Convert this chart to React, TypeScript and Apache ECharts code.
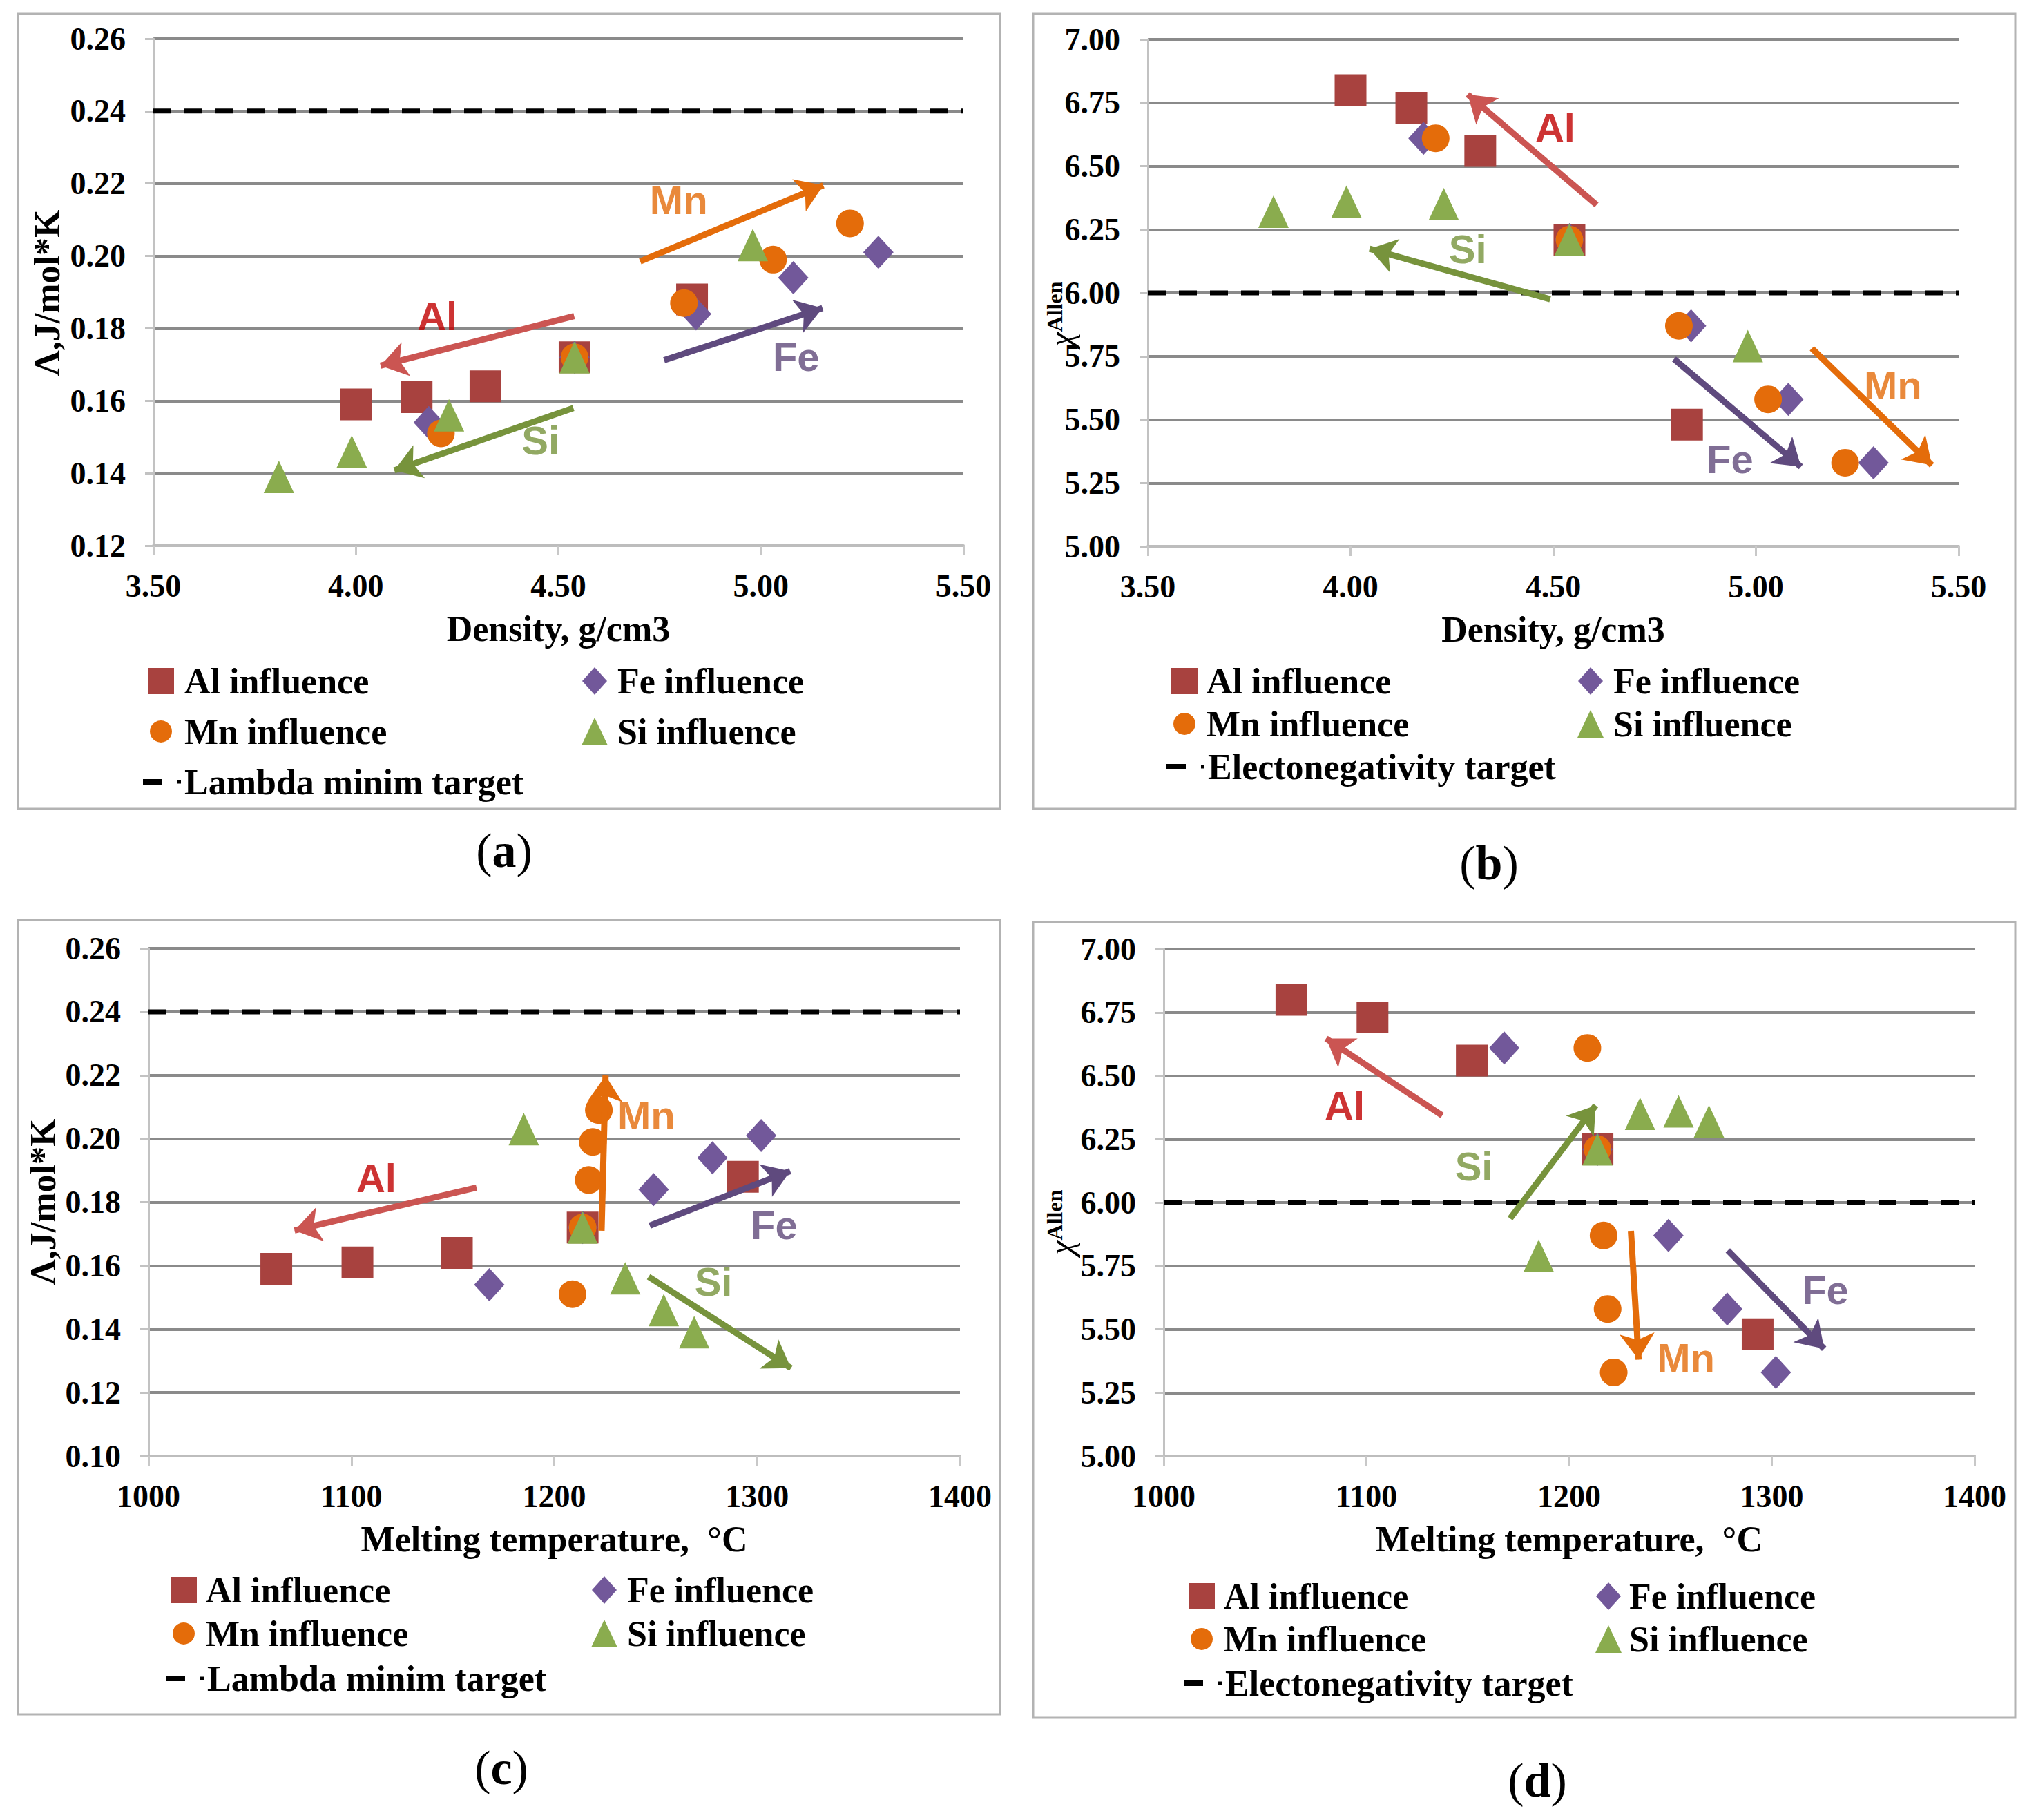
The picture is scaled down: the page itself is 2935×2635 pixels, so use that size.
import React, { useEffect, useRef } from "react";
import * as echarts from "echarts";

// ---------------- DATA ----------------
const ELEMENTS = ["Al", "Fe", "Mn", "Si"];
const SERIES_NAMES = ["Al influence", "Fe influence", "Mn influence", "Si influence"];

// Density, g/cm3
const alDensity = [4.0, 4.15, 4.32, 4.54, 4.83];
const feDensity = [4.18, 4.54, 4.84, 5.08, 5.29];
const mnDensity = [4.21, 4.54, 4.81, 5.03, 5.22];
const siDensity = [3.81, 3.99, 4.23, 4.54, 4.98];

// Melting temperature, °C
const alTm = [1063, 1103, 1152, 1214, 1293];
const feTm = [1168, 1214, 1249, 1278, 1302];
const mnTm = [1209, 1214, 1217, 1219, 1222];
const siTm = [1269, 1254, 1235, 1214, 1185];

// Lambda, J/mol*K
const alLambda = [0.159, 0.161, 0.164, 0.172, 0.188];
const feLambda = [0.154, 0.172, 0.184, 0.194, 0.201];
const mnLambda = [0.151, 0.172, 0.187, 0.199, 0.209];
const siLambda = [0.139, 0.146, 0.156, 0.172, 0.203];

// Electronegativity chi^Allen
const alChi = [6.8, 6.73, 6.56, 6.21, 5.48];
const feChi = [6.61, 6.21, 5.87, 5.58, 5.33];
const mnChi = [6.61, 6.21, 5.87, 5.58, 5.33];
const siChi = [6.32, 6.36, 6.35, 6.21, 5.79];

const LAMBDA_TARGET = 0.24;
const CHI_TARGET = 6.0;
const LAMBDA_TARGET_NAME = "Lambda minim target";
const CHI_TARGET_NAME = "Electonegativity target";

// axes
const densityAxis = { min: 3.5, max: 5.5, interval: 0.5, digits: 2, name: "Density, g/cm3" };
const tempAxis = { min: 1000, max: 1400, interval: 100, digits: 0, name: "Melting temperature,  °C" };
const lambdaAxisA = { min: 0.12, max: 0.26, interval: 0.02, digits: 2 };
const lambdaAxisC = { min: 0.1, max: 0.26, interval: 0.02, digits: 2 };
const chiAxis = { min: 5.0, max: 7.0, interval: 0.25, digits: 2 };

// trend arrow annotations (data coordinates)
const arrowsA = [
  { el: "Al", from: [4.539, 0.1834], to: [4.061, 0.1697] },
  { el: "Mn", from: [4.702, 0.1985], to: [5.154, 0.2195] },
  { el: "Fe", from: [4.761, 0.1712], to: [5.152, 0.1856] },
  { el: "Si", from: [4.537, 0.158], to: [4.095, 0.1408] },
];
const labelsA = [
  { el: "Al", at: [4.201, 0.1835] },
  { el: "Mn", at: [4.797, 0.2154] },
  { el: "Fe", at: [5.087, 0.1721] },
  { el: "Si", at: [4.456, 0.149] },
];
const arrowsB = [
  { el: "Al", from: [4.607, 6.347], to: [4.289, 6.783] },
  { el: "Si", from: [4.4925, 5.975], to: [4.047, 6.174] },
  { el: "Fe", from: [4.798, 5.739], to: [5.111, 5.314] },
  { el: "Mn", from: [5.138, 5.781], to: [5.434, 5.32] },
];
const labelsB = [
  { el: "Al", at: [4.505, 6.653] },
  { el: "Si", at: [4.289, 6.174] },
  { el: "Fe", at: [4.936, 5.346] },
  { el: "Mn", at: [5.338, 5.637] },
];
const arrowsC = [
  { el: "Al", from: [1161.7, 0.1846], to: [1072, 0.1711] },
  { el: "Mn", from: [1223.3, 0.171], to: [1225.3, 0.2199] },
  { el: "Fe", from: [1247.1, 0.1726], to: [1316.3, 0.1898] },
  { el: "Si", from: [1246.5, 0.1565], to: [1316.7, 0.1277] },
];
const labelsC = [
  { el: "Al", at: [1112.3, 0.1877] },
  { el: "Mn", at: [1245.4, 0.2075] },
  { el: "Fe", at: [1308.4, 0.1729] },
  { el: "Si", at: [1278.5, 0.155] },
];
const arrowsD = [
  { el: "Al", from: [1137.4, 6.343], to: [1080.1, 6.647] },
  { el: "Si", from: [1170.9, 5.937], to: [1213.1, 6.383] },
  { el: "Mn", from: [1230.5, 5.888], to: [1234.3, 5.38] },
  { el: "Fe", from: [1278.3, 5.811], to: [1325.8, 5.423] },
];
const labelsD = [
  { el: "Al", at: [1089.3, 6.383] },
  { el: "Si", at: [1153, 6.143] },
  { el: "Mn", at: [1257.6, 5.388] },
  { el: "Fe", at: [1326.4, 5.654] },
];

// ---------------- STYLE ----------------
const SERIF = '"Liberation Serif", "Times New Roman", serif';
const SANS = '"Liberation Sans", Arial, sans-serif';
const COLORS: Record<string, string> = { Al: "#A8423F", Fe: "#72589A", Mn: "#E46C0A", Si: "#8AAC4E" };
const ARROW_COLORS: Record<string, string> = { Al: "#CB5552", Fe: "#5F4A7E", Mn: "#E46C0A", Si: "#77933C" };
const LABEL_COLORS: Record<string, string> = { Al: "#C00000", Fe: "#604A7B", Mn: "#E46C0A", Si: "#77933C" };
const SYMBOLS: Record<string, any> = {
  Al: { symbol: "rect", size: [46, 46] },
  Fe: { symbol: "diamond", size: [44, 48] },
  Mn: { symbol: "circle", size: 40 },
  Si: { symbol: "triangle", size: [44, 47] },
};
const DASH_ICON = "path://M0,0h28v8h-28zM50,1.5h5v5h-5z";

const PANELS = [
  {
    tag: "a",
    xs: [alDensity, feDensity, mnDensity, siDensity],
    ys: [alLambda, feLambda, mnLambda, siLambda],
    xAxis: densityAxis,
    yAxis: lambdaAxisA,
    target: LAMBDA_TARGET,
    targetName: LAMBDA_TARGET_NAME,
    yTitle: "lambda",
    arrows: arrowsA,
    labels: labelsA,
    grid: { left: 222, top: 56, width: 1173, height: 734 },
    box: { x: 26, y: 20, width: 1422, height: 1151 },
    tagPos: [730, 1231],
    yTitlePos: [68, 424],
    legend: { c1: 233, t1: 267, c2: 861, t2: 894, rows: [986, 1059, 1132] },
  },
  {
    tag: "b",
    xs: [alDensity, feDensity, mnDensity, siDensity],
    ys: [alChi, feChi, mnChi, siChi],
    xAxis: densityAxis,
    yAxis: chiAxis,
    target: CHI_TARGET,
    targetName: CHI_TARGET_NAME,
    yTitle: "chi",
    arrows: arrowsB,
    labels: labelsB,
    grid: { left: 1662, top: 57, width: 1174, height: 734 },
    box: { x: 1496, y: 20, width: 1422, height: 1151 },
    tagPos: [2156, 1249],
    yTitlePos: [1536, 455],
    legend: { c1: 1715, t1: 1747, c2: 2303, t2: 2336, rows: [986, 1048, 1110] },
  },
  {
    tag: "c",
    xs: [alTm, feTm, mnTm, siTm],
    ys: [alLambda, feLambda, mnLambda, siLambda],
    xAxis: tempAxis,
    yAxis: lambdaAxisC,
    target: LAMBDA_TARGET,
    targetName: LAMBDA_TARGET_NAME,
    yTitle: "lambda",
    arrows: arrowsC,
    labels: labelsC,
    grid: { left: 215, top: 1373, width: 1175, height: 735 },
    box: { x: 26, y: 1332, width: 1422, height: 1150 },
    tagPos: [726, 2559],
    yTitlePos: [62, 1740],
    legend: { c1: 266, t1: 298, c2: 875, t2: 908, rows: [2302, 2365, 2430] },
  },
  {
    tag: "d",
    xs: [alTm, feTm, mnTm, siTm],
    ys: [alChi, feChi, mnChi, siChi],
    xAxis: tempAxis,
    yAxis: chiAxis,
    target: CHI_TARGET,
    targetName: CHI_TARGET_NAME,
    yTitle: "chi",
    arrows: arrowsD,
    labels: labelsD,
    grid: { left: 1685, top: 1374, width: 1174, height: 734 },
    box: { x: 1496, y: 1335, width: 1422, height: 1152 },
    tagPos: [2226, 2577],
    yTitlePos: [1536, 1770],
    legend: { c1: 1740, t1: 1772, c2: 2329, t2: 2359, rows: [2311, 2373, 2437] },
  },
];

const LEGEND_FONT = 52;

function buildOption() {
  const grid: any[] = [];
  const xAxis: any[] = [];
  const yAxis: any[] = [];
  const series: any[] = [];
  const legend: any[] = [];
  const graphic: any[] = [];

  PANELS.forEach((p, idx) => {
    grid.push({ ...p.grid, containLabel: false });
    xAxis.push({
      type: "value",
      gridIndex: idx,
      min: p.xAxis.min,
      max: p.xAxis.max,
      interval: p.xAxis.interval,
      name: p.xAxis.name,
      nameLocation: "middle",
      nameGap: 94,
      nameTextStyle: { fontFamily: SERIF, fontWeight: "bold", fontSize: 52, color: "#000" },
      axisLine: { show: true, lineStyle: { color: "#BDBDBD", width: 4 } },
      axisTick: { show: true, inside: false, length: 14, lineStyle: { color: "#C8C8C8", width: 3 } },
      splitLine: { show: false },
      axisLabel: {
        margin: 35,
        fontFamily: SERIF,
        fontWeight: "bold",
        fontSize: 46,
        color: "#000",
        formatter: (v: number) => v.toFixed(p.xAxis.digits),
      },
    });
    yAxis.push({
      type: "value",
      gridIndex: idx,
      min: p.yAxis.min,
      max: p.yAxis.max,
      interval: p.yAxis.interval,
      axisLine: { show: true, lineStyle: { color: "#C2C2C2", width: 3 } },
      axisTick: { show: true, inside: false, length: 12, lineStyle: { color: "#C2C2C2", width: 3 } },
      splitLine: { show: true, lineStyle: { color: "#8A8A8A", width: 4 } },
      axisLabel: {
        margin: 40,
        fontFamily: SERIF,
        fontWeight: "bold",
        fontSize: 46,
        color: "#000",
        formatter: (v: number) => v.toFixed(p.yAxis.digits),
      },
    });

    // target line
    series.push({
      type: "line",
      name: p.targetName,
      xAxisIndex: idx,
      yAxisIndex: idx,
      data: [
        [p.xAxis.min, p.target],
        [p.xAxis.max, p.target],
      ],
      symbol: "none",
      silent: true,
      lineStyle: { color: "#000", width: 7, type: [26, 19] },
      itemStyle: { color: "#000" },
      z: 3,
    });

    // scatter series
    ELEMENTS.forEach((el, k) => {
      series.push({
        type: "scatter",
        name: SERIES_NAMES[k],
        xAxisIndex: idx,
        yAxisIndex: idx,
        data: p.xs[k].map((x: number, i: number) => [x, p.ys[k][i]]),
        symbol: SYMBOLS[el].symbol,
        symbolSize: SYMBOLS[el].size,
        itemStyle: { color: COLORS[el], opacity: 1 },
        silent: true,
        z: 5,
      });
    });

    // arrows
    p.arrows.forEach((a: any) => {
      series.push({
        type: "lines",
        coordinateSystem: "cartesian2d",
        xAxisIndex: idx,
        yAxisIndex: idx,
        data: [{ coords: [a.from, a.to] }],
        symbol: ["none", "arrow"],
        symbolSize: 38,
        lineStyle: { color: ARROW_COLORS[a.el], width: 9, opacity: 1, curveness: 0 },
        silent: true,
        z: 6,
      });
    });

    // arrow labels
    series.push({
      type: "scatter",
      xAxisIndex: idx,
      yAxisIndex: idx,
      data: p.labels.map((l: any) => ({
        name: l.el,
        value: l.at,
        label: { color: LABEL_COLORS[l.el] },
      })),
      symbolSize: 1,
      itemStyle: { color: "transparent" },
      label: {
        show: true,
        position: "inside",
        formatter: "{b}",
        fontFamily: SANS,
        fontWeight: "bold",
        fontSize: 58,
      },
      silent: true,
      z: 7,
    });

    // legends
    const L = p.legend;
    const items = [
      { name: "Al influence", icon: "rect", w: 38, h: 38, col: 1, row: 0 },
      { name: "Fe influence", icon: "diamond", w: 36, h: 40, col: 2, row: 0 },
      { name: "Mn influence", icon: "circle", w: 32, h: 32, col: 1, row: 1 },
      { name: "Si influence", icon: "triangle", w: 38, h: 40, col: 2, row: 1 },
      { name: p.targetName, icon: DASH_ICON, w: 55, h: 8, col: 1, row: 2, dash: true },
    ];
    items.forEach((it: any) => {
      const c = it.col === 1 ? L.c1 : L.c2;
      const t = it.col === 1 ? L.t1 : L.t2;
      const left = it.dash ? c - 26 : c - it.w / 2;
      const pad = Math.max(0, t - (left + it.w + 5));
      legend.push({
        left,
        top: L.rows[it.row] - LEGEND_FONT / 2,
        orient: "horizontal",
        padding: 0,
        itemGap: 0,
        selectedMode: false,
        itemWidth: it.w,
        itemHeight: it.h,
        data: [{ name: it.name, icon: it.icon }],
        textStyle: {
          fontFamily: SERIF,
          fontWeight: "bold",
          fontSize: LEGEND_FONT,
          color: "#000",
          padding: [0, 0, 0, pad],
        },
      });
    });

    // panel frame
    graphic.push({
      type: "rect",
      shape: { ...p.box },
      style: { fill: "none", stroke: "#B3B3B3", lineWidth: 3 },
      silent: true,
    });

    // panel tag
    graphic.push({
      type: "text",
      x: p.tagPos[0],
      y: p.tagPos[1],
      silent: true,
      style: {
        text: `{n|(}{b|${p.tag}}{n|)}`,
        rich: {
          n: { fontFamily: SERIF, fontSize: 70, fill: "#000" },
          b: { fontFamily: SERIF, fontSize: 70, fontWeight: "bold", fill: "#000" },
        },
        align: "center",
        verticalAlign: "middle",
        textAlign: "center",
        textVerticalAlign: "middle",
      },
    });

    // y-axis title
    if (p.yTitle === "lambda") {
      graphic.push({
        type: "text",
        x: p.yTitlePos[0],
        y: p.yTitlePos[1],
        rotation: Math.PI / 2,
        silent: true,
        style: {
          text: "Λ,J/mol*K",
          fontFamily: SERIF,
          fontWeight: "bold",
          fontSize: 52,
          fill: "#000",
          align: "center",
          verticalAlign: "middle",
          textAlign: "center",
          textVerticalAlign: "middle",
        },
      });
    } else {
      graphic.push({
        type: "text",
        x: p.yTitlePos[0],
        y: p.yTitlePos[1],
        rotation: Math.PI / 2,
        silent: true,
        style: {
          text: "{c|χ}{s|Allen}",
          rich: {
            c: { fontFamily: SERIF, fontStyle: "italic", fontSize: 50, fill: "#000", verticalAlign: "bottom" },
            s: { fontFamily: SERIF, fontWeight: "bold", fontSize: 32, fill: "#000", verticalAlign: "top" },
          },
          fill: "#000",
          align: "center",
          verticalAlign: "middle",
          textAlign: "center",
          textVerticalAlign: "middle",
        },
      });
    }
  });

  return {
    animation: false,
    backgroundColor: "#ffffff",
    grid,
    xAxis,
    yAxis,
    legend,
    series,
    graphic,
  };
}

export default function App() {
  const ref = useRef<HTMLDivElement>(null);
  useEffect(() => {
    if (!ref.current) return;
    const chart = echarts.init(ref.current, null, { renderer: "svg" });
    chart.setOption(buildOption() as any);
    return () => {
      chart.dispose();
    };
  }, []);
  return (
    <div
      ref={ref}
      style={{ position: "fixed", left: 0, top: 0, width: 2935, height: 2635, background: "#fff" }}
    />
  );
}
